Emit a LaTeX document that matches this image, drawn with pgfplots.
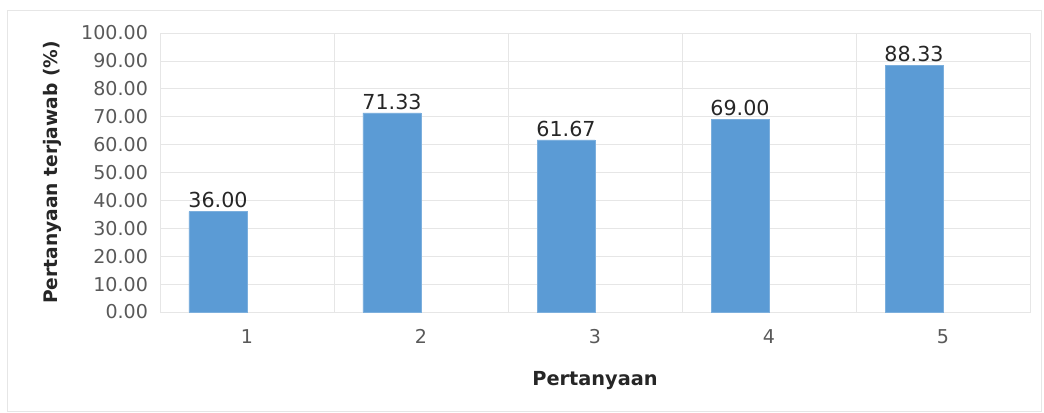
\documentclass[border=0pt]{standalone}
\usepackage{pgfplots}
\pgfplotsset{compat=1.18}
\usepackage{fontspec}
\setmainfont{DejaVu Sans}
\definecolor{barblue}{HTML}{5B9BD5}
\definecolor{gridc}{HTML}{E6E6E6}
\definecolor{tickc}{HTML}{595959}
\definecolor{labc}{HTML}{262626}
\begin{document}
\begin{tikzpicture}
\begin{axis}[
  name=ax,
  scale only axis,
  width=652.5pt, height=209.25pt,
  xmin=0, xmax=5, ymin=0, ymax=100,
  axis line style={draw=gridc},
  axis lines=box,
  xtick={0.5,1.5,2.5,3.5,4.5},
  xticklabels={1,2,3,4,5},
  minor xtick={0,1,2,3,4,5},
  xminorgrids=true,
  ytick={0,10,...,100},
  ymajorgrids=true,
  grid style={draw=gridc, line width=0.6pt},
  minor grid style={draw=gridc, line width=0.6pt},
  major tick length=0pt, minor tick length=0pt,
  /pgf/number format/assume math mode=true,
  yticklabel style={/pgf/number format/fixed, /pgf/number format/fixed zerofill, /pgf/number format/precision=2, font=\fontsize{14.3}{16}\selectfont, text=tickc, xshift=-5.5pt},
  xticklabel style={font=\fontsize{14.3}{16}\selectfont, text=tickc, yshift=-9.5pt},
  ylabel={Pertanyaan terjawab (\%)},
  xlabel={Pertanyaan},
  ylabel style={at={(axis description cs:-0.124,0.5)}, anchor=center, font=\bfseries\fontsize{14}{16}\selectfont, text=labc},
  xlabel style={at={(axis description cs:0.5,-0.244)}, anchor=center, font=\bfseries\fontsize{14.5}{16}\selectfont, text=labc},
  ybar, bar width=0.3333,
  nodes near coords,
  nodes near coords style={font=\fontsize{15.5}{17}\selectfont, text=labc, /pgf/number format/fixed, /pgf/number format/fixed zerofill, /pgf/number format/precision=2, yshift=-1pt},
  clip=false,
]
\addplot[fill=barblue, draw=barblue!80!white] coordinates {(0.3333,36.00) (1.3333,71.33) (2.3333,61.67) (3.3333,69.00) (4.3333,88.33)};
\end{axis}
\path ([xshift=-120pt, yshift=-75pt]ax.south west) rectangle ++(783pt,309pt);
\draw[draw=gridc, line width=0.6pt] ([xshift=-114.75pt, yshift=-74.25pt]ax.south west) rectangle ++(775.5pt,300.75pt);
\end{tikzpicture}
\end{document}
